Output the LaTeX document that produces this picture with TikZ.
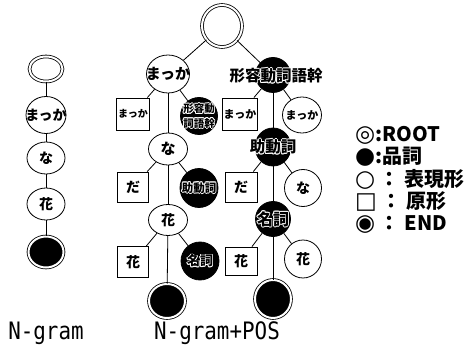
\documentclass[tikz,border=0pt]{standalone}
\usepackage{fontspec}
\usepackage{tikz}
\usetikzlibrary{shapes.geometric}
\newfontfamily\jp{Noto Sans CJK JP}
\newfontfamily\sym{DejaVu Sans}
\newfontfamily\mono{DejaVu Sans Mono}[FakeStretch=0.87]
\newcommand\fsz[1]{\fontsize{#1}{#1}\selectfont}
\newcommand\halotext[1]{%
 \rlap{\color{white}\kern0.9pt#1}\rlap{\color{white}\kern-0.9pt#1}%
 \rlap{\color{white}\raisebox{0.9pt}{#1}}\rlap{\color{white}\raisebox{-0.9pt}{#1}}%
 \rlap{\color{white}\kern0.65pt\raisebox{0.65pt}{#1}}\rlap{\color{white}\kern-0.65pt\raisebox{0.65pt}{#1}}%
 \rlap{\color{white}\kern0.65pt\raisebox{-0.65pt}{#1}}\rlap{\color{white}\kern-0.65pt\raisebox{-0.65pt}{#1}}%
 #1}
\begin{document}
\begin{tikzpicture}
[x=1pt, y=-1pt,
 base/.style ={line width=0.8pt, inner sep=0pt, font=\jp\bfseries,
 execute at begin node={\hbox to 0pt\bgroup\hss}, execute at end node={\hss\egroup}},
 sz/.style 2 args={minimum width=#1, minimum height=#2},
 root/.style ={base, ellipse, draw, double, double distance=2pt, fill=white},
 eos/.style ={base, ellipse, draw, double, double distance=2pt, fill=black},
 surf/.style ={base, ellipse, draw, fill=white},
 hinshi/.style ={base, ellipse, draw, fill=black},
 orig/.style ={base, rectangle, draw, fill=white},
 word/.style ={inner sep=0pt, font=\jp\bfseries},
 title/.style ={inner sep=0pt, font=\mono\fsz{24}},
 key/.style ={anchor=base west, inner sep=0pt, font=\jp\bfseries\fsz{20}},
 line/.style ={draw, line width=0.8pt}]
\useasboundingbox (0,0) rectangle (468,358);
\draw (46,69) node[root, sz={33}{25}] (l0) {};
\draw (46,115) node[surf, sz={40}{37}, font=\jp\bfseries\fsz{14}] (l1) {まっか};
\draw (46,158) node[surf, sz={38}{32}, font=\jp\bfseries\fsz{14}] (l2) {な};
\draw (46,204) node[surf, sz={38}{32}, font=\jp\bfseries\fsz{14}] (l3) {花};
\draw (46,252) node[eos, sz={35}{31}] (l4) {};
\draw (222,26) node[root, sz={40}{42}] (r0) {};
\draw (168,74) node[surf, sz={43}{38}, font=\jp\bfseries\fsz{15}] (a1) {まっか};
\draw (133,114) node[orig, sz={33}{32}, font=\jp\bfseries\fsz{10}] (a1o) {まっか};
\draw (199,116) node[hinshi, sz={37}{37}, font=\jp\bfseries\fsz{10.5}] (a1p) {\shortstack{\halotext{形容動}\\[-0.5pt]\halotext{詞語幹}}};
\draw (168,149) node[surf, sz={39}{32}, font=\jp\bfseries\fsz{15}] (a2) {な};
\draw (133,187) node[orig, sz={31}{30}, font=\jp\bfseries\fsz{14}] (a2o) {だ};
\draw (199,188) node[hinshi, sz={38}{39}, font=\jp\bfseries\fsz{11.5}] (a2p) {\halotext{助動詞}};
\draw (168,220) node[surf, sz={39}{31}, font=\jp\bfseries\fsz{14}] (a3) {花};
\draw (133,262) node[orig, sz={31}{31}, font=\jp\bfseries\fsz{14}] (a3o) {花};
\draw (200,261) node[hinshi, sz={38}{38}, font=\jp\bfseries\fsz{13}] (a3p) {\halotext{名詞}};
\draw (167,301) node[eos, sz={36}{34}] (a4) {};
\draw (273,75) node[hinshi, sz={35}{35}] (b1) {};
\draw (276,76) node[word, font=\jp\bfseries\fsz{15.5}] (b1t) {\halotext{形容動詞語幹}};
\draw (240,114) node[orig, sz={35}{32}, font=\jp\bfseries\fsz{11}] (b1o) {まっか};
\draw (302,115) node[surf, sz={39}{36}, font=\jp\bfseries\fsz{11}] (b1s) {まっか};
\draw (273,147) node[hinshi, sz={36}{38}, font=\jp\bfseries\fsz{15.5}] (b2) {\halotext{助動詞}};
\draw (241,187) node[orig, sz={32}{30}, font=\jp\bfseries\fsz{14}] (b2o) {だ};
\draw (303,188) node[surf, sz={37}{37}, font=\jp\bfseries\fsz{14}] (b2s) {な};
\draw (273,219) node[hinshi, sz={35}{35}, font=\jp\bfseries\fsz{16}] (b3) {\halotext{名詞}};
\draw (241,261) node[orig, sz={32}{28}, font=\jp\bfseries\fsz{14}] (b3o) {花};
\draw (303,259) node[surf, sz={37}{38}, font=\jp\bfseries\fsz{14}] (b3s) {花};
\draw (273,299) node[eos, sz={36}{38}] (b4) {};
\draw (46,333) node[title] (ngram) {N-gram};
\draw (217,333) node[title] (ngrampos) {N-gram+POS};
\draw (355,142) node[key] (kroot) {{\sym\fsz{23}◎}:ROOT};
\draw (355,164) node[key] (kpos) {{\sym\fsz{23}●}:品詞};
\draw (355,186) node[key] (ksurf) {{\sym\fsz{23}○} ： 表現形};
\draw (355,208) node[key] (korig) {{\sym\fsz{23}□} ： 原形};
\draw (355,230) node[key] (keos) {{\sym\fsz{23}◉} ： END};
\draw[line] (l0) -- (l1);
\draw[line] (l1) -- (l2);
\draw[line] (l2) -- (l3);
\draw[line] (l3) -- (l4);
\draw[line] (r0) -- (a1);
\draw[line] (r0) -- (b1);
\draw[line] (a1) -- (a1o);
\draw[line] (a1) -- (a2);
\draw[line] (a1) -- (a1p);
\draw[line] (a2) -- (a2o);
\draw[line] (a2) -- (a3);
\draw[line] (a2) -- (a2p);
\draw[line] (a3) -- (a3o);
\draw[line] (a3) -- (a4);
\draw[line] (a3) -- (a3p);
\draw[line] (b1) -- (b1o);
\draw[line] (b1) -- (b2);
\draw[line] (b1) -- (b1s);
\draw[line] (b2) -- (b2o);
\draw[line] (b2) -- (b3);
\draw[line] (b2) -- (b2s);
\draw[line] (b3) -- (b3o);
\draw[line] (b3) -- (b4);
\draw[line] (b3) -- (b3s);
\end{tikzpicture}
\end{document}
